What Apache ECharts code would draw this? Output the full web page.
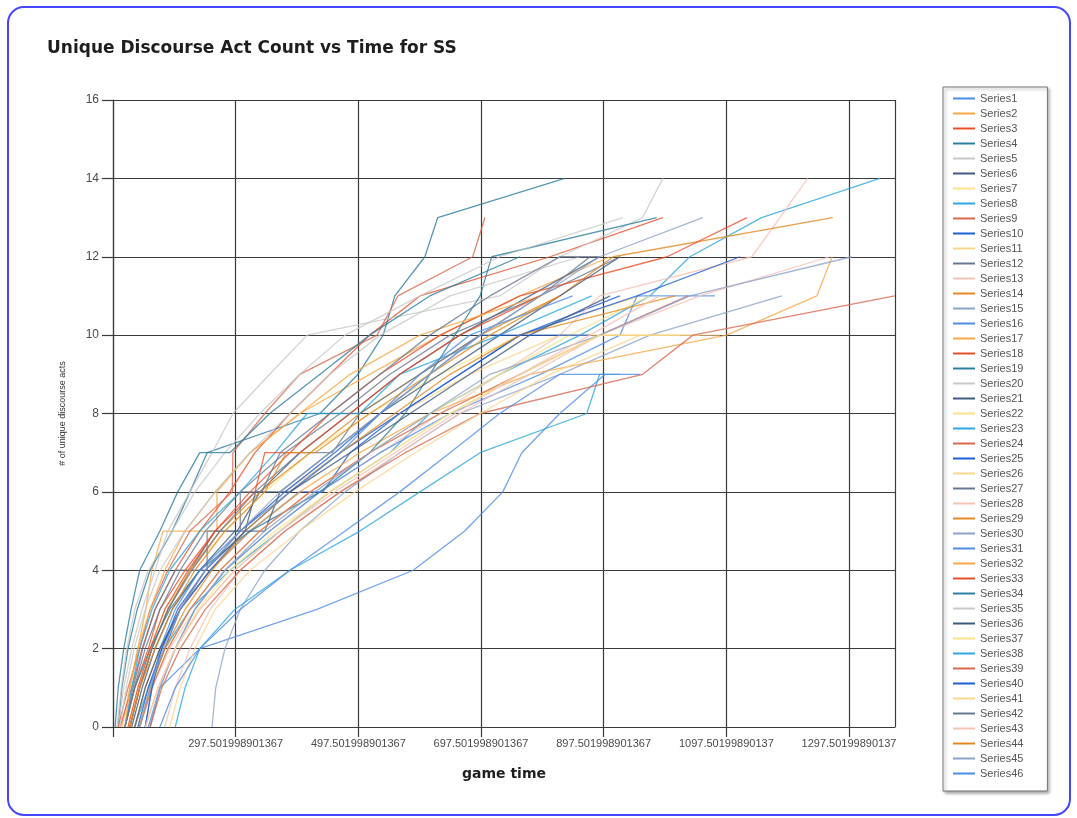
<!DOCTYPE html>
<html>
<head>
<meta charset="utf-8">
<script src="https://cdn.jsdelivr.net/npm/echarts@6/dist/echarts.min.js"></script>
<style>
  html, body { margin: 0; padding: 0; background: #ffffff; }
  #chart { width: 1077px; height: 818px; }
</style>
</head>
<body>
<div id="chart"></div>
<script>
// ---- axis definitions ----
const xMin = 97.501998901367;
const xMax = 1372.5;
const xInterval = 200;
const xTickLabels = ['', '297.501998901367', '497.501998901367', '697.501998901367',
  '897.501998901367', '1097.50199890137', '1297.50199890137'];
const yMin = 0, yMax = 16, yInterval = 2;

// ---- series colours (repeat every 15 series) ----
const palette = ['#4f8fe6', '#f9a947', '#e8502a', '#2c7ea1', '#c8c8c8', '#3f5a80', '#fde28a',
  '#2ea6e0', '#d9694d', '#1e5fd6', '#fbd58e', '#6a7890', '#f4c2b6', '#e48a22', '#8ea3c8'];

// ---- data: [game time, unique discourse act count] ----
const s1 = [[155,0],[174,1],[239,2],[430,3],[587,4],[671,5],[733,6],[764,7],[826,8],[900,9]];
const s2 = [[112,0],[125,1],[138,2],[151,3],[161,4],[179,5],[267,5],[267,6],[321,7],[402,8],[516,9],[631,10],[761,11],[908,12]];
const s3 = [[109,0],[128,1],[145,2],[166,3],[199,4],[239,5],[288,6],[329,7],[386,8],[451,9],[516,10],[598,11],[810,12],[994,13]];
const s4 = [[106,0],[112,1],[122,2],[137,3],[158,4],[194,5],[223,6],[251,7],[435,8],[497,9],[538,10],[557,11],[606,12],[627,13],[834,14]];
const s5 = [[106,0],[115,1],[128,2],[145,3],[166,4],[187,5],[223,6],[259,7],[293,8],[353,9],[414,10],[728,11],[826,12],[961,13],[994,14]];
const s6 = [[125,0],[141,1],[161,2],[187,3],[223,4],[264,5],[300,5],[337,6],[402,7],[484,8],[565,9],[663,10],[777,11],[891,12]];
const s7 = [[122,0],[138,1],[158,2],[182,3],[223,4],[280,5],[345,6],[419,7],[516,8],[631,9],[761,10],[957,11]];
const s8 = [[133,0],[155,1],[182,2],[223,3],[288,4],[370,5],[451,6],[549,7],[614,8],[728,9],[859,10],[973,11],[1038,12],[1155,13],[1348,14]];
const s9 = [[106,0],[122,1],[141,2],[158,3],[187,4],[223,5],[292,6],[293,7],[345,8],[402,9],[528,10],[562,11],[684,12],[704,13]];
const s10 = [[141,0],[158,1],[182,2],[207,3],[256,4],[321,5],[402,6],[440,6],[484,7],[565,8],[663,9],[761,10],[924,11]];
const s11 = [[133,0],[150,1],[174,2],[207,3],[248,4],[305,5],[378,6],[468,7],[565,8],[679,9],[826,10],[1087,10]];
const s12 = [[117,0],[130,1],[146,2],[166,3],[199,4],[251,4],[251,5],[305,5],[305,6],[378,7],[468,8],[549,9],[647,10],[794,11],[924,12]];
const s13 = [[141,0],[161,1],[190,2],[231,3],[280,4],[353,5],[435,6],[533,7],[631,8],[728,9],[826,10],[891,11],[1139,12],[1185,13],[1230,14]];
const s14 = [[125,0],[141,1],[161,2],[187,3],[223,4],[272,5],[337,6],[419,7],[500,8],[598,9],[696,10],[826,11],[913,12],[1271,13]];
const s15 = [[259,0],[265,1],[280,2],[305,3],[345,4],[402,5],[476,6],[565,7],[663,8],[826,9],[973,10],[1188,11]];
const s16 = [[158,0],[174,1],[199,2],[231,3],[280,4],[353,5],[435,6],[533,7],[647,8],[794,9],[924,10],[952,11],[1079,11]];
const s17 = [[133,0],[150,1],[174,2],[207,3],[256,4],[321,5],[402,6],[500,7],[614,8],[777,9],[1098,10],[1245,11],[1270,12]];
const s18 = [[117,0],[133,1],[155,2],[174,3],[215,4],[264,5],[321,6],[386,7],[451,8],[533,9],[631,10],[761,11],[1001,12],[1131,13]];
const s19 = [[117,0],[133,1],[158,2],[190,3],[239,4],[321,5],[435,6],[516,7],[574,8],[614,9],[655,10],[696,11],[715,12],[984,13]];
const s20 = [[104,0],[111,1],[120,2],[133,3],[155,4],[194,5],[231,6],[280,7],[337,8],[402,9],[476,10],[598,11],[728,12],[929,13]];
const s21 = [[128,0],[145,1],[166,2],[194,3],[239,4],[296,5],[345,5],[370,6],[451,7],[533,8],[631,9],[728,10],[826,11],[924,12]];
const s22 = [[138,0],[158,1],[187,2],[223,3],[272,4],[337,5],[419,6],[516,7],[614,8],[728,9],[842,10],[973,11]];
const s23 = [[117,0],[128,1],[141,2],[161,3],[190,4],[239,5],[305,6],[362,7],[414,8],[500,8],[565,9],[728,10],[878,11]];
const s24 = [[141,0],[161,1],[187,2],[223,3],[272,4],[337,5],[419,6],[516,7],[631,8],[761,9],[891,10],[1035,11]];
const s25 = [[138,0],[155,1],[177,2],[207,3],[256,4],[313,5],[386,6],[468,7],[565,8],[663,9],[761,10],[952,11],[1120,12]];
const s26 = [[150,0],[171,1],[199,2],[239,3],[296,4],[370,5],[451,6],[549,7],[647,8],[761,9],[891,10],[1054,10]];
const s27 = [[125,0],[141,1],[161,2],[187,3],[226,4],[272,5],[329,6],[402,7],[455,7],[500,8],[598,9],[696,10],[794,11],[875,12]];
const s28 = [[182,0],[199,1],[223,2],[256,3],[305,4],[378,5],[468,6],[565,7],[663,8],[777,9],[891,10],[1054,11],[1266,12]];
const s29 = [[141,0],[158,1],[182,2],[215,3],[259,4],[313,5],[386,6],[468,7],[557,8],[647,9],[761,10],[1014,11]];
const s30 = [[158,0],[174,1],[199,2],[231,3],[280,4],[345,5],[427,6],[516,7],[614,8],[712,9],[891,10],[1038,11],[1302,12]];
const s31 = [[150,0],[161,1],[174,2],[199,3],[239,4],[305,5],[386,6],[468,7],[533,8],[598,9],[679,10],[847,11]];
const s32 = [[117,0],[125,1],[138,2],[158,3],[182,4],[215,5],[264,6],[321,7],[402,8],[484,9],[598,10],[794,11]];
const s33 = [[122,0],[138,1],[158,2],[182,3],[220,4],[264,5],[329,6],[345,7],[402,7],[484,8],[565,9],[663,10],[794,11]];
const s34 = [[101,0],[106,1],[115,2],[127,3],[141,4],[174,5],[203,6],[239,7],[288,7],[353,8],[435,9],[516,10],[614,11],[761,12]];
const s35 = [[109,0],[119,1],[132,2],[150,3],[174,4],[215,5],[264,6],[321,7],[386,8],[451,9],[533,10],[647,11],[859,12]];
const s36 = [[133,0],[150,1],[174,2],[207,3],[248,4],[313,5],[330,6],[386,6],[484,7],[582,8],[679,9],[777,10],[908,11]];
const s37 = [[150,0],[171,1],[199,2],[236,3],[288,4],[362,5],[451,6],[549,7],[647,8],[761,9],[891,10],[1022,10]];
const s38 = [[199,0],[215,1],[239,2],[296,3],[386,4],[500,5],[598,6],[696,7],[870,8],[891,9],[924,9]];
const s39 = [[158,0],[177,1],[207,2],[248,3],[305,4],[378,5],[468,6],[574,7],[696,8],[961,9],[1043,10],[1372,11]];
const s40 = [[150,0],[161,1],[177,2],[203,3],[248,4],[305,5],[378,6],[459,7],[533,8],[614,9],[696,10],[875,10]];
const s41 = [[190,0],[207,1],[231,2],[264,3],[321,4],[402,5],[492,6],[590,7],[696,8],[810,9],[957,10]];
const s42 = [[117,0],[132,1],[150,2],[174,3],[207,4],[248,5],[305,6],[340,6],[370,7],[451,8],[533,9],[614,10],[712,11],[826,12],[891,12]];
const s43 = [[150,0],[171,1],[199,2],[239,3],[296,4],[370,5],[459,6],[557,7],[655,8],[761,9],[875,10],[989,11]];
const s44 = [[125,0],[141,1],[166,2],[194,3],[231,4],[280,5],[345,6],[380,7],[427,7],[516,8],[614,9],[712,10],[826,11]];
const s45 = [[141,0],[158,1],[179,2],[207,3],[248,4],[305,5],[370,6],[451,7],[533,8],[614,9],[696,10],[794,11],[891,12],[1059,13]];
const s46 = [[174,0],[199,1],[239,2],[305,3],[386,4],[476,5],[565,6],[647,7],[728,8],[826,9],[957,9]];

const allSeries = [s1,s2,s3,s4,s5,s6,s7,s8,s9,s10,s11,s12,s13,s14,s15,s16,s17,s18,s19,s20,
  s21,s22,s23,s24,s25,s26,s27,s28,s29,s30,s31,s32,s33,s34,s35,s36,s37,s38,s39,s40,
  s41,s42,s43,s44,s45,s46];
const seriesNames = allSeries.map((_, i) => 'Series' + (i + 1));

const chart = echarts.init(document.getElementById('chart'), null, { renderer: 'canvas' });

const series = allSeries.map((d, i) => ({
  name: seriesNames[i],
  type: 'line',
  data: d,
  showSymbol: false,
  symbol: 'none',
  color: palette[i % palette.length],
  lineStyle: { width: 1.3, opacity: 0.8 },
  emphasis: { disabled: true },
  animation: false
}));

const gridColor = '#3a3a3a';
const font = 'Liberation Sans, Arial, sans-serif';

chart.setOption({
  animation: false,
  backgroundColor: '#ffffff',
  title: {
    text: 'Unique Discourse Act Count vs Time for SS',
    left: 42, top: 35,
    textStyle: { fontFamily: 'DejaVu Sans, sans-serif', fontSize: 17, fontWeight: 'bold', color: '#1e1e1e' }
  },
  graphic: [{
    type: 'rect',
    shape: { x: 8, y: 7, width: 1062, height: 808, r: 16 },
    style: { fill: 'none', stroke: '#4646ff', lineWidth: 2 },
    silent: true, z: 100
  }],
  legend: {
    orient: 'vertical',
    left: 943, top: 87,
    data: seriesNames,
    icon: 'rect',
    itemWidth: 22, itemHeight: 2, itemGap: 2,
    padding: [5, 24, 11, 10],
    backgroundColor: '#ffffff',
    borderColor: '#777777', borderWidth: 1,
    shadowColor: 'rgba(0,0,0,0.35)', shadowBlur: 3, shadowOffsetX: 2, shadowOffsetY: 2,
    textStyle: { fontFamily: font, fontSize: 11, lineHeight: 13, color: '#555555' },
    selectedMode: false
  },
  grid: { left: 113, right: 182, top: 100, bottom: 91, containLabel: false },
  xAxis: {
    type: 'value',
    min: xMin, max: xMax, interval: xInterval,
    name: 'game time',
    nameLocation: 'middle', nameGap: 40,
    nameTextStyle: { fontFamily: 'DejaVu Sans, sans-serif', fontSize: 14, fontWeight: 'bold', color: '#1e1e1e' },
    axisLine: { show: true, onZero: false, lineStyle: { color: gridColor, width: 1.2 } },
    axisTick: { show: true, length: 10, lineStyle: { color: gridColor, width: 1.2 } },
    axisLabel: {
      margin: 11, fontFamily: font, fontSize: 11, color: '#4a4a4a',
      showMaxLabel: false,
      formatter: function (v) {
        const idx = Math.round((v - xMin) / xInterval);
        return xTickLabels[idx] !== undefined ? xTickLabels[idx] : '';
      }
    },
    splitLine: { show: true, lineStyle: { color: gridColor, width: 1.2 } }
  },
  yAxis: {
    type: 'value',
    min: yMin, max: yMax, interval: yInterval,
    name: '# of unique discourse acts',
    nameLocation: 'middle', nameGap: 46, nameRotate: 90,
    nameTextStyle: { fontFamily: font, fontSize: 9, color: '#333333' },
    axisLine: { show: true, lineStyle: { color: gridColor, width: 1.2 } },
    axisTick: { show: true, length: 11, lineStyle: { color: gridColor, width: 1.2 } },
    axisLabel: { margin: 14, fontFamily: font, fontSize: 12, color: '#4a4a4a' },
    splitLine: { show: true, lineStyle: { color: gridColor, width: 1.2 } }
  },
  series: series
});
</script>
</body>
</html>
